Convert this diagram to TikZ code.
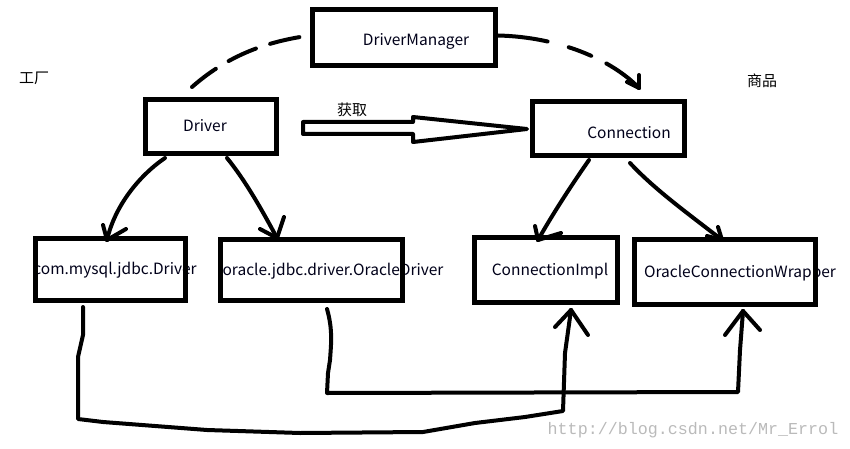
\documentclass[tikz,border=0pt]{standalone}
\usepackage{fontspec}
\setmainfont{Noto Sans CJK SC}
\newfontfamily\wmfont{Liberation Mono}
\usetikzlibrary{calc}
\begin{document}
\begin{tikzpicture}[x=1pt,y=-1pt,
  box/.style={draw, line width=5pt, inner sep=0pt, outer sep=2.5pt},
  lbl/.style={inner sep=0pt, anchor=base, text=black!90!blue, font=\fontsize{15.5}{18}\selectfont},
  cjk/.style={inner sep=0pt, anchor=base, font=\fontsize{15}{18}\selectfont},
  wire/.style={line width=4pt, line cap=round, line join=round},
  dsh/.style={line width=4pt, line cap=round},
]
\useasboundingbox (0,0) rectangle (850,449);

% texts (drawn first so that box borders overlap them)
\node[lbl] (tdm)    at (416,46)  {DriverManager};
\node[lbl] (tdrv)   at (205,132) {Driver};
\node[lbl] (tconn)  at (629,139) {Connection};
\node[lbl] (tmysql) at (115,274) {com.mysql.jdbc.Driver};
\node[lbl] (tora)   at (333,275) {oracle.jdbc.driver.OracleDriver};
\node[lbl] (timpl)  at (550,275) {ConnectionImpl};
\node[lbl] (twrap)  at (740,277) {OracleConnectionWrapper};
\node[cjk] (fac)    at (34,84)   {工厂};
\node[cjk] (goods)  at (762,87)  {商品};
\node[cjk] (get)    at (352,116) {获取};
\node[inner sep=0pt, anchor=base, text=black!27, font=\wmfont\fontsize{16.7}{18}\selectfont] (wm) at (693,434) {http://blog.csdn.net/Mr\_Errol};

% boxes
\node[box, minimum width=183pt, minimum height=56pt] (dm)    at (404,37.5)  {};
\node[box, minimum width=131pt, minimum height=54pt] (drv)   at (211,126.5) {};
\node[box, minimum width=152pt, minimum height=54pt] (conn)  at (608.5,128.5) {};
\node[box, minimum width=150pt, minimum height=62pt] (mysql) at (110.5,269.5) {};
\node[box, minimum width=182pt, minimum height=61pt] (ora)   at (311.5,270) {};
\node[box, minimum width=143pt, minimum height=65pt] (impl)  at (546,270) {};
\node[box, minimum width=181pt, minimum height=65pt] (wrap)  at (725,272) {};

% dashed arc Driver -> DriverManager -> Connection
\draw[dsh, dash pattern=on 30pt off 15pt] ($(drv.north west)+(49,-10)$) .. controls (225,58) and (262,42) .. ($(dm.west)+(0,-2)$);
\coordinate (dmtip) at ($(conn.north)+(30.5,-11)$);
\draw[dsh, dash pattern=on 50pt off 22pt on 24pt off 17pt on 80pt] ($(dm.east)+(0,-2)$) .. controls (560,37) and (612,60) .. (dmtip);
\draw[wire] (dmtip) -- ++(0,-13);
\draw[wire] (dmtip) -- ++(-12,-6);

% hollow arrow (获取)
\draw[wire, fill=white] (303,122) -- (413,122) -- (413,117) -- ($(conn.west)+(-3,0.5)$) -- (413,142) -- (413,134) -- (303,134) -- cycle;

% Driver -> implementations
\coordinate (t1) at ($(mysql.north)+(-3.5,4)$);
\draw[wire] ($(drv.south west)+(22,2)$) .. controls (140,175) and (115,205) .. (t1);
\draw[wire] (t1) -- ++(-4,-15);
\draw[wire] (t1) -- ++(19,-11);
\coordinate (t2) at ($(ora.north west)+(59,1)$);
\draw[wire] ($(drv.south)+(16,2)$) .. controls (245,180) and (262,210) .. (t2);
\draw[wire] (t2) -- ++(-17,-9);
\draw[wire] (t2) -- ++(7,-21);

% Connection -> implementations
\coordinate (t3) at ($(impl.north west)+(66,5)$);
\draw[wire] ($(conn.south)+(-19.5,2)$) .. controls (575,180) and (555,210) .. (t3);
\draw[wire] (t3) -- ++(-3,-14);
\draw[wire] (t3) -- ++(23,-7);
\coordinate (t4) at ($(wrap.north west)+(90,3)$);
\draw[wire] ($(conn.south)+(21.5,5)$) .. controls (655,190) and (690,215) .. (t4);
\draw[wire] (t4) -- ++(-4,-13);
\draw[wire] (t4) -- ++(-15,-4);

% bottom connectors
\coordinate (t5) at ($(impl.south west)+(99,5)$);
\draw[wire] ($(mysql.south west)+(50,4)$) -- (83,335) -- (78,357) -- (78,419) -- (103,422) -- (207,430) -- (300,433) -- (423,432) -- (475,423) -- (525,417) -- (563,411) -- (565,353) -- (t5);
\draw[wire] (t5) -- ++(-16,17);
\draw[wire] (t5) -- ++(17,25);
\coordinate (t6) at ($(wrap.south west)+(111,4)$);
\draw[wire] ($(ora.south west)+(109,6)$) .. controls (333,330) and (331,345) .. (330,360) -- (328,373) -- (327,393) -- (738,392) -- (740,350) -- (t6);
\draw[wire] (t6) -- ++(-18,24);
\draw[wire] (t6) -- ++(17,19);
\end{tikzpicture}
\end{document}
